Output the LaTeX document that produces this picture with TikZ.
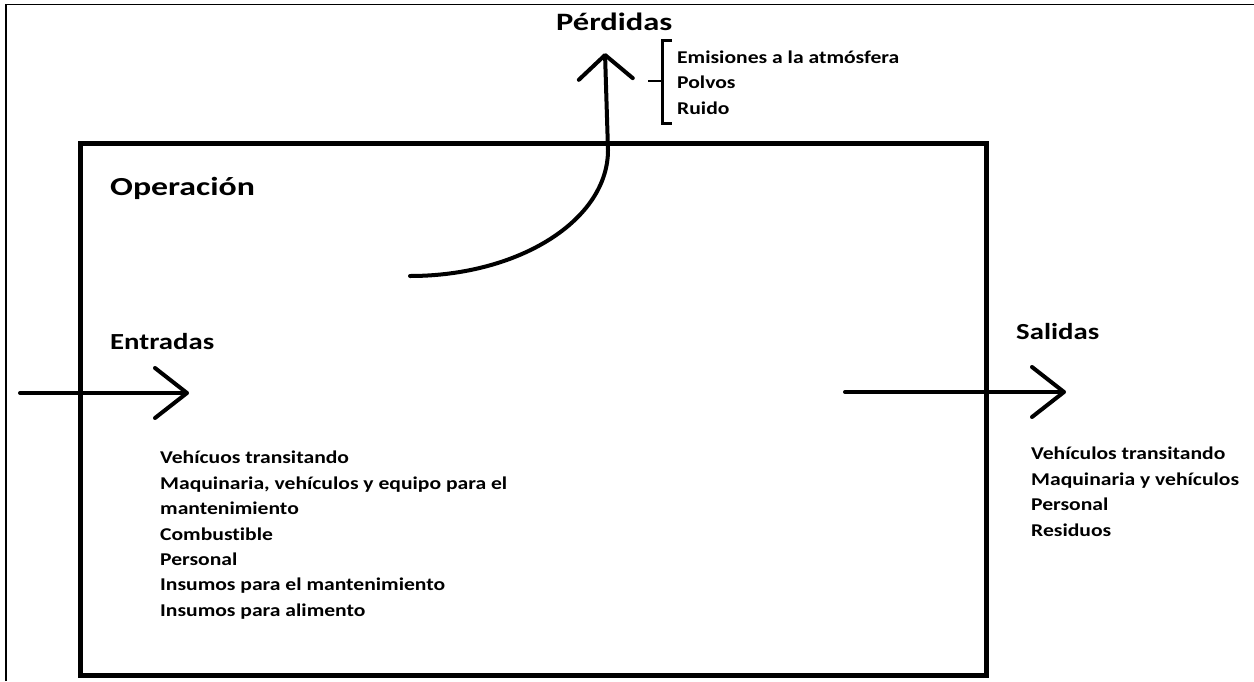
\documentclass[tikz,border=0pt]{standalone}
\usepackage{fontspec}
\setmainfont{Carlito}[Ligatures=NoCommon]
\usetikzlibrary{arrows.meta}

\begin{document}
\begin{tikzpicture}[x=1pt,y=-1pt,
   lista/.style={anchor=north west,inner sep=0pt,align=left,
                 font=\bfseries\fontsize{18}{25.4}\selectfont\addfontfeature{FakeStretch=1.2}},
   titulo/.style={anchor=base west,inner sep=0pt,
                  font=\bfseries\fontsize{23}{27}\selectfont\addfontfeature{FakeStretch=1.25}},
   flecha/.style={line width=4pt,line cap=round,
                  -{Straight Barb[length=32pt,width=50pt,round]}}]
  \useasboundingbox (0,0) rectangle (1254,681);
  \fill[white] (0,0) rectangle (1254,681);
  % marco
  \draw[line width=1.5pt] (6,681) -- (6,4.5) -- (1254,4.5);
  \draw[line width=5pt] (80,143.5) rectangle (986.5,675.5);
  % titulos
  \node[titulo,font=\bfseries\fontsize{25}{29}\selectfont\addfontfeature{FakeStretch=1.3}]
       (perd) at (556,30) {Pérdidas};
  \node[titulo,font=\bfseries\fontsize{26}{30}\selectfont\addfontfeature{FakeStretch=1.3}]
       (oper) at (110,195) {Operación};
  \node[titulo] (entr) at (110,349) {Entradas};
  \node[titulo] (sal) at (1016,339) {Salidas};
  % listas
  \node[lista] (lperd) at (677,50.5) {Emisiones a la atmósfera\\Polvos\\Ruido};
  \node[lista] (lentr) at (160,451) {Vehícuos transitando\\Maquinaria, vehículos y equipo para el\\mantenimiento\\Combustible\\Personal\\Insumos para el mantenimiento\\Insumos para alimento};
  \node[lista] (lsal) at (1031,447) {Vehículos transitando\\Maquinaria y vehículos\\Personal\\Residuos};
  % llave de perdidas
  \coordinate (llsup) at (672,40);
  \coordinate (llinf) at (672,123);
  \draw[line width=3pt] (llsup) -- ++(-10,0) |- (llinf);
  \draw[line width=2pt] (648,81) -- (662,81);
  % flechas
  \coordinate (ein) at (20,393);
  \coordinate (eout) at (189,393);
  \draw[flecha] (ein) -- (eout);
  \coordinate (sin) at (845,392);
  \coordinate (sout) at (1066,392);
  \draw[flecha] (sin) -- (sout);
  \coordinate (cini) at (410,276);
  \coordinate (cfin) at (605,53);
  \draw[flecha,-{Straight Barb[length=24pt,width=54pt,round]}]
       (cini) .. controls (519,276) and (608,220) .. (608,150) -- (cfin);
\end{tikzpicture}
\end{document}
